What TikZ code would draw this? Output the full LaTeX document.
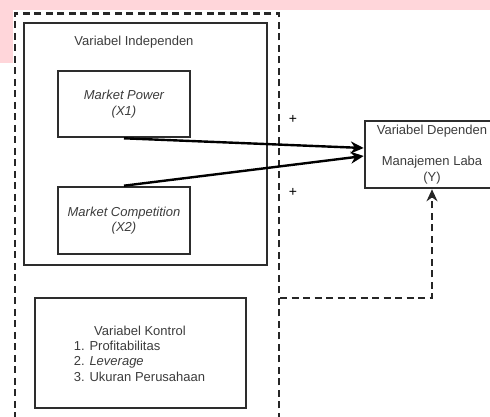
\documentclass[tikz,border=0pt]{standalone}
\usepackage{fontspec}
\setmainfont{Liberation Sans}
\usetikzlibrary{arrows.meta}
\definecolor{pinkbg}{RGB}{255,214,218}
\definecolor{boxline}{RGB}{45,45,45}
\definecolor{txtc}{RGB}{60,60,60}
\begin{document}
\begin{tikzpicture}[x=1pt,y=-1pt,
  box/.style={draw=boxline, line width=2.6pt, inner sep=0pt, text=txtc,
    font=\fontsize{13}{15.5}\selectfont, align=center},
  outerbox/.style={draw=black!85, line width=2.6pt, dash pattern=on 7pt off 4.5pt, inner sep=0pt},
  conn/.style={draw=black, line width=2.4pt, -{Stealth[length=13pt,width=12pt]}},
  dconn/.style={draw=black!85, line width=2.6pt, dash pattern=on 7pt off 4.5pt,
    -{Stealth[length=12pt,width=11pt]}},
  txt/.style={text=txtc, font=\fontsize{13}{15.5}\selectfont, inner sep=0pt},
  lbl/.style={text=black, font=\fontsize{14}{16}\selectfont, inner sep=0pt}]
\useasboundingbox (0,0) rectangle (490,416);
\clip (0,0) rectangle (490,416);
\fill[pinkbg] (0,0) rectangle (490,10);
\fill[pinkbg] (0,0) rectangle (13,63);
% outer dashed group
\node[outerbox, minimum width=264pt, minimum height=430pt, anchor=north west] (grp) at (13.5,12) {};
% independent group
\node[box, minimum width=243pt, minimum height=242pt] (ind) at (145.5,144) {};
\node[txt] (indlbl) at (134,42) {Variabel Independen};
\node[box, minimum width=132pt, minimum height=66pt] (mp) at (124,104) {\itshape Market Power\\\itshape (X1)};
\node[box, minimum width=132pt, minimum height=67pt] (mc) at (124,220.5) {\itshape Market Competition\\\itshape (X2)};
% control
\node[box, minimum width=211pt, minimum height=110pt] (kon) at (140.5,353) {};
\node[txt] (kontitle) at (140,331) {Variabel Kontrol};
\node[txt, align=left] (konlist) at (139.5,361) {1. Profitabilitas\\2. \textit{Leverage}\\3. Ukuran Perusahaan};
% dependent
\node[box, minimum width=134pt, minimum height=67pt] (dep) at (432,154.5) {Variabel Dependen\\[15.5pt]Manajemen Laba\\(Y)};
% connectors
\draw[conn] (mp.south) -- ([yshift=6.5pt]dep.west);
\draw[conn] (mc.north) -- ([yshift=-1.5pt]dep.west);
\node[lbl] (p1) at (293,119) {+};
\node[lbl] (p2) at (293,192) {+};
\coordinate (k) at (grp.east |- 0,298);
\draw[dconn] (k) -| (dep.south);
\end{tikzpicture}
\end{document}
